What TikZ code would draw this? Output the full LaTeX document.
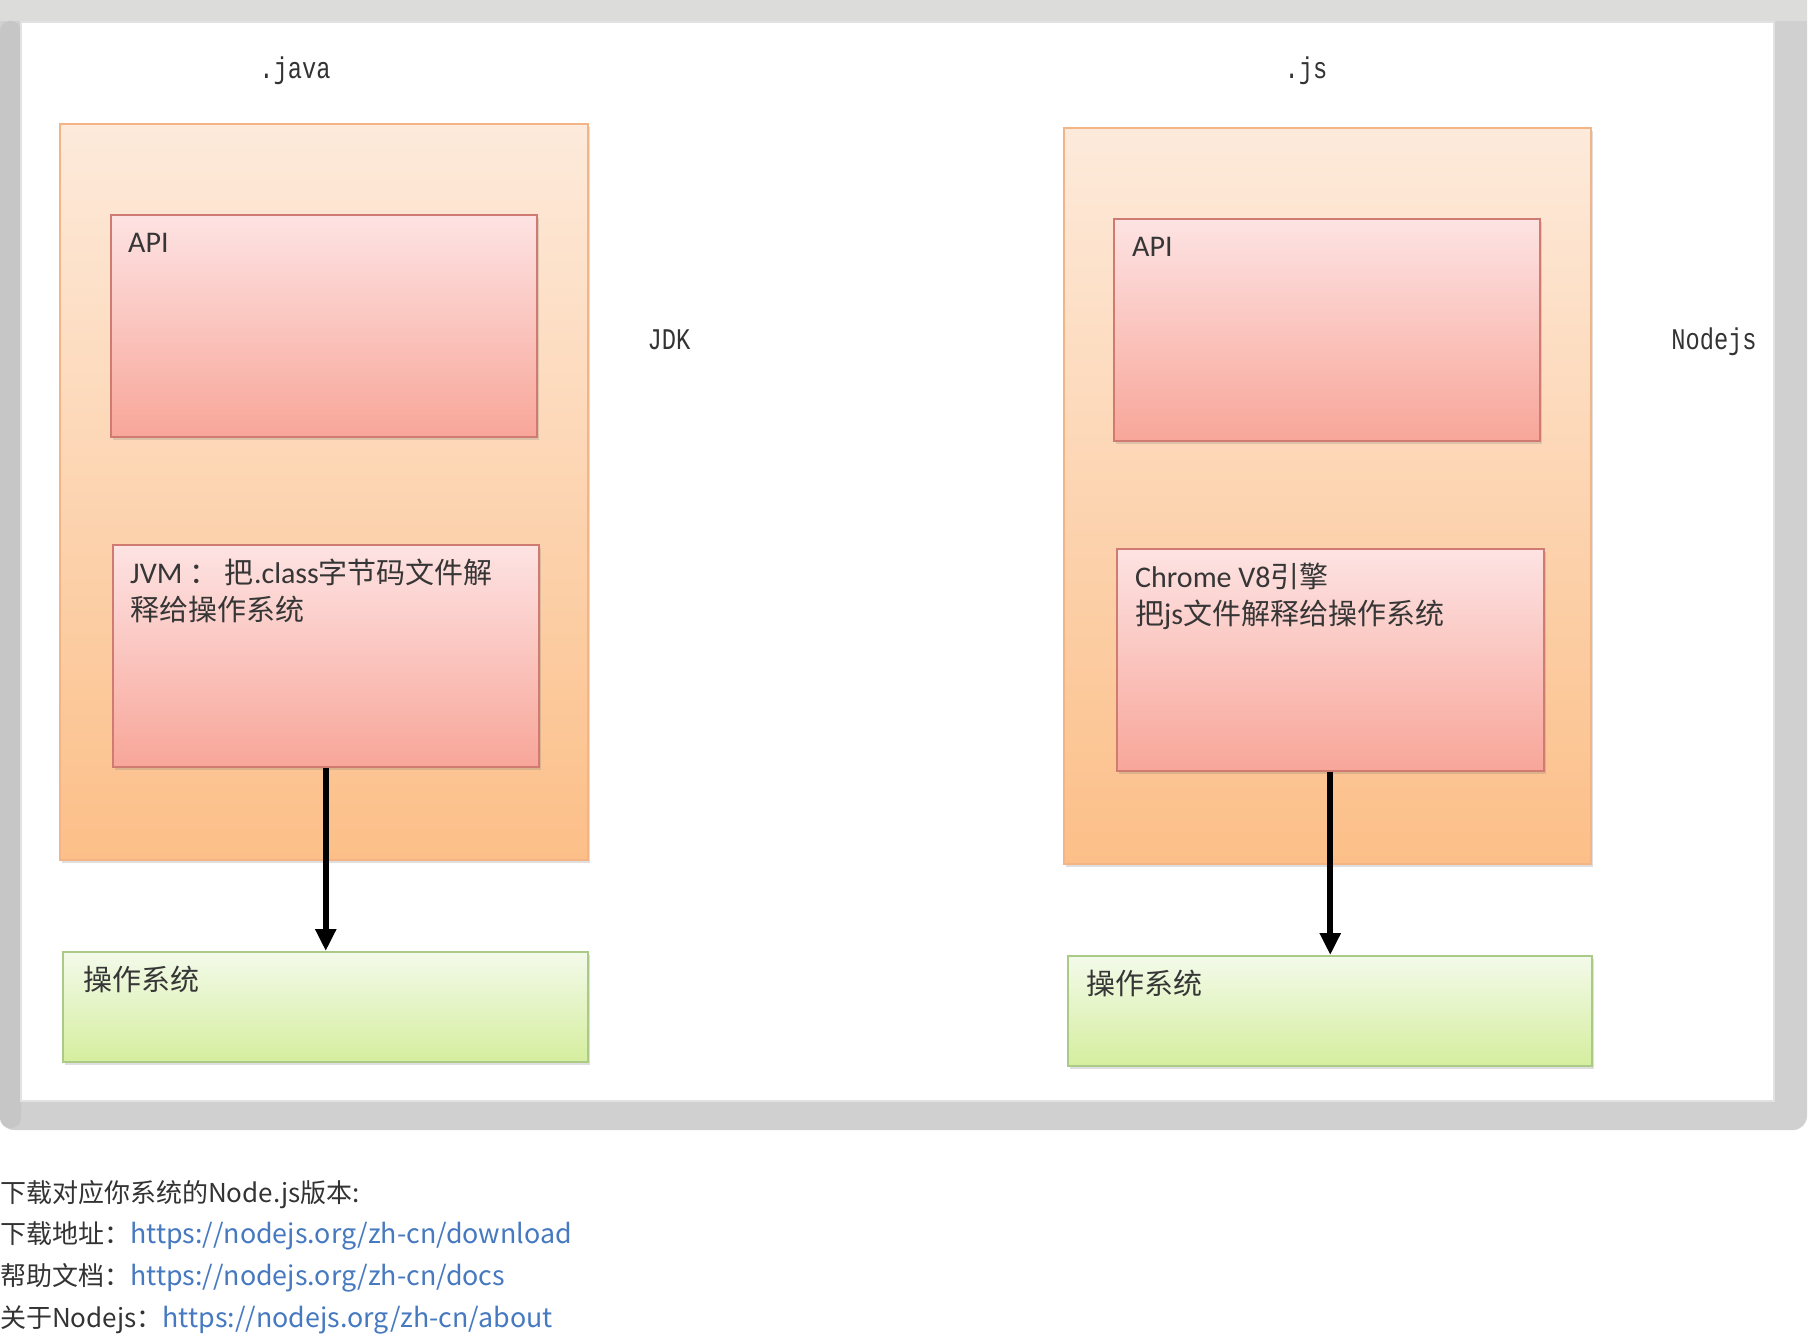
\documentclass[tikz,border=0pt]{standalone}
\usepackage{fontspec}
\setmainfont{Carlito}
\newfontfamily\cjk{Noto Sans CJK SC}
\newfontfamily\monof{Liberation Mono}
\usetikzlibrary{shadows,arrows.meta}
\definecolor{framegray}{HTML}{D0D0D0}
\definecolor{frametop}{HTML}{DCDCDA}
\definecolor{frameleft}{HTML}{C6C6C6}
\definecolor{panelline}{HTML}{E2E2E2}
\definecolor{orgtop}{HTML}{FDEADB}
\definecolor{orgbot}{HTML}{FCBF88}
\definecolor{orgline}{HTML}{F3B585}
\definecolor{pinktop}{HTML}{FDE3E3}
\definecolor{pinkbot}{HTML}{F8A699}
\definecolor{pinkline}{HTML}{CF7B72}
\definecolor{greentop}{HTML}{F3FAEA}
\definecolor{greenbot}{HTML}{D5EE9E}
\definecolor{greenline}{HTML}{ABC987}
\definecolor{labelgray}{HTML}{333333}
\definecolor{boxtextc}{HTML}{363636}
\definecolor{bodytext}{HTML}{333333}
\definecolor{linkblue}{HTML}{4679C0}
\newcommand{\lnk}[1]{{\fontsize{26.8}{31}\selectfont\textcolor{linkblue}{#1}}}
\begin{document}
\begin{tikzpicture}[x=1pt,y=-1pt,
  shad/.style={drop shadow={shadow xshift=2pt,shadow yshift=-3pt,opacity=.25}},
  outerbox/.style={shad,draw=orgline,line width=1.5pt,top color=orgtop,bottom color=orgbot,anchor=north west,minimum width=528pt,minimum height=736pt,inner sep=0pt},
  pinkbox/.style={shad,draw=pinkline,line width=1.5pt,top color=pinktop,bottom color=pinkbot,anchor=north west,minimum width=426pt,minimum height=222pt,inner sep=0pt},
  greenbox/.style={shad,draw=greenline,line width=1.5pt,top color=greentop,bottom color=greenbot,anchor=north west,minimum width=525pt,minimum height=110pt,inner sep=0pt},
  boxtext/.style={anchor=base west,inner sep=0pt,text=boxtextc,font=\fontsize{30}{36}\selectfont},
  monolabel/.style={anchor=base,inner sep=0pt,text=labelgray,font=\monof\fontsize{30}{36}\selectfont},
  bodyline/.style={anchor=base west,inner sep=0pt,text=bodytext,font=\cjk\fontsize{26}{31}\selectfont},
  flow/.style={line width=6pt,-{Triangle[width=20pt,length=22pt]}}
]
\useasboundingbox (0,0) rectangle (1808,1338);
\fill[white] (0,0) rectangle (1808,1338);
% frame
\fill[framegray,rounded corners=14pt] (0,-30) rectangle (1807,1130);
\fill[frametop] (0,0) rectangle (1807,21);
\fill[frameleft,rounded corners=10pt] (0,21) -- (0,1128) -- (21,1128) -- (21,21) -- cycle;
\filldraw[fill=white,draw=panelline,line width=2pt] (21,22) rectangle (1774,1101);

% left column
\node[monolabel] (java) at (295,78) {\scalebox{0.79}[1]{.java}};
\node[outerbox] (jdk) at (59,123) {};
\node[pinkbox] (apil) at (110,214) {};
\node[pinkbox] (jvm) at (112,544) {};
\node[greenbox] (osl) at (62,951) {};
\node[boxtext] (apiltext) at (128,252) {API};
\node[boxtext] (jvmtexta) at (130,583) {JVM {\cjk\fontsize{29}{35}\selectfont ：} {\cjk\fontsize{29}{35}\selectfont 把}.class{\cjk\fontsize{29}{35}\selectfont 字节码文件解}};
\node[boxtext,font=\cjk\fontsize{29}{35}\selectfont] (jvmtextb) at (130,620) {释给操作系统};
\node[boxtext,font=\cjk\fontsize{29}{35}\selectfont] (osltext) at (83,990) {操作系统};
\node[monolabel] (jdklabel) at (669,349) {\scalebox{0.79}[1]{JDK}};
\draw[flow] (jvm.south) -- (jvm.south |- osl.north);

% right column
\node[monolabel] (js) at (1306,78) {\scalebox{0.79}[1]{.js}};
\node[outerbox,minimum width=527pt] (nodejs) at (1063,127) {};
\node[pinkbox] (apir) at (1113,218) {};
\node[pinkbox,minimum width=427pt] (chrome) at (1116,548) {};
\node[greenbox,minimum width=524pt] (osr) at (1067,955) {};
\node[boxtext] (apirtext) at (1132,256) {API};
\node[boxtext] (chrometexta) at (1135,587) {Chrome V8{\cjk\fontsize{29}{35}\selectfont 引擎}};
\node[boxtext] (chrometextb) at (1135,624) {{\cjk\fontsize{29}{35}\selectfont 把}js{\cjk\fontsize{29}{35}\selectfont 文件解释给操作系统}};
\node[boxtext,font=\cjk\fontsize{29}{35}\selectfont] (osrtext) at (1086,994) {操作系统};
\node[monolabel] (nodejslabel) at (1714,349) {\scalebox{0.79}[1]{Nodejs}};
\draw[flow] (chrome.south) -- (chrome.south |- osr.north);

% text below
\node[bodyline] (l1) at (0,1202) {下载对应你系统的Node.js版本:};
\node[bodyline] (l2) at (0,1243) {下载地址：\lnk{https://nodejs.org/zh-cn/download}};
\node[bodyline] (l3) at (0,1285) {帮助文档：\lnk{https://nodejs.org/zh-cn/docs}};
\node[bodyline] (l4) at (0,1327) {关于Nodejs：\lnk{https://nodejs.org/zh-cn/about}};
\end{tikzpicture}
\end{document}
